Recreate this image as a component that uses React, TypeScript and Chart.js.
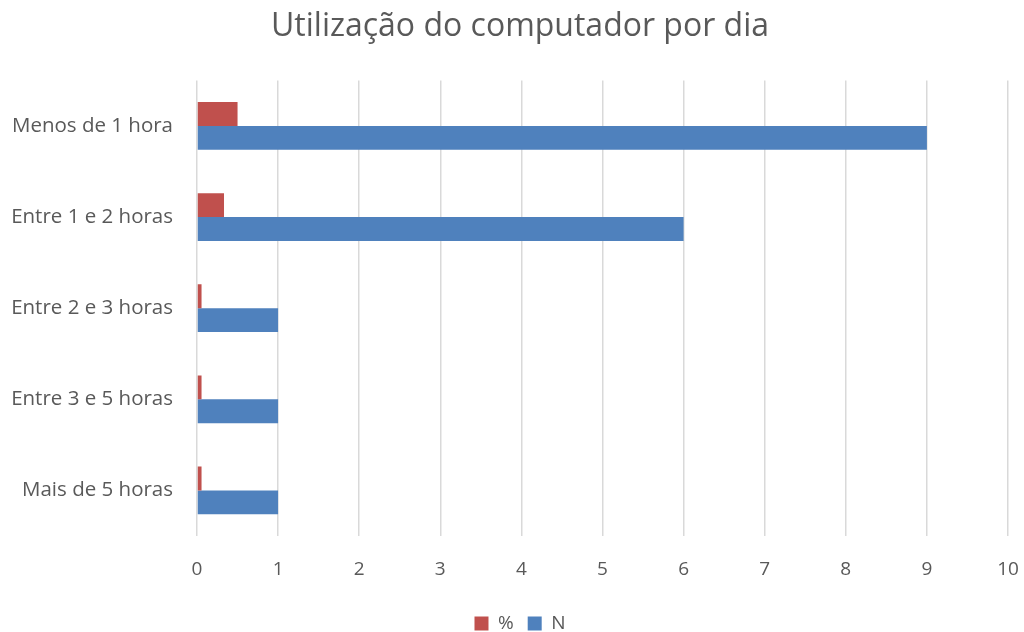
import React, { useEffect, useRef } from "react";
import { Chart, registerables } from "chart.js";

Chart.register(...registerables);

const categories = [
  "Menos de 1 hora",
  "Entre 1 e 2 horas",
  "Entre 2 e 3 horas",
  "Entre 3 e 5 horas",
  "Mais de 5 horas",
];
const percentValues = [0.5, 0.333, 0.056, 0.056, 0.056];
const nValues = [9, 6, 1, 1, 1];
const xTicks = [0, 1, 2, 3, 4, 5, 6, 7, 8, 9, 10];

const FONT = "'Open Sans', 'DejaVu Sans', sans-serif";
const TEXT = "#595959";

const unclipYLabels = {
  id: "unclipYLabels",
  afterLayout(chart: any) {
    if (chart.scales.y) chart.scales.y.left = 0;
  },
};

export default function App() {
  const ref = useRef<HTMLCanvasElement>(null);

  useEffect(() => {
    document.body.style.margin = "0";
    if (!ref.current) return;
    const chart = new Chart(ref.current, {
      type: "bar",
      data: {
        labels: categories,
        datasets: [
          {
            label: "%",
            data: percentValues,
            backgroundColor: "#C0504D",
            categoryPercentage: 0.524,
            barPercentage: 1,
          },
          {
            label: "N",
            data: nValues,
            backgroundColor: "#4F81BD",
            categoryPercentage: 0.524,
            barPercentage: 1,
          },
        ],
      },
      plugins: [unclipYLabels],
      options: {
        indexAxis: "y",
        animation: false,
        responsive: false,
        maintainAspectRatio: false,
        layout: { padding: { left: 16, right: 0, top: 0, bottom: -11 } },
        scales: {
          x: {
            min: 0,
            max: 10,
            afterBuildTicks: (scale: any) => {
              scale.ticks = xTicks.map((v) => ({ value: v }));
            },
            afterFit: (scale: any) => {
              scale.height = 64;
              scale.paddingLeft = 0;
              scale.paddingRight = 16;
            },
            grid: { color: "#d9d9d9", lineWidth: 1.5, drawTicks: false },
            border: { display: false },
            ticks: {
              padding: 22,
              color: TEXT,
              font: { family: FONT, size: 19 },
            },
          },
          y: {
            afterFit: (scale: any) => {
              scale.width = 181;
            },
            grid: { display: false, drawTicks: false },
            border: { display: false },
            ticks: {
              padding: 24,
              color: TEXT,
              font: { family: FONT, size: 20.5 },
            },
          },
        },
        plugins: {
          title: {
            display: true,
            text: "Utilização do computador por dia",
            color: TEXT,
            font: { family: FONT, size: 32, weight: "normal" },
            padding: { top: 8, bottom: 34 },
          },
          legend: {
            position: "bottom",
            labels: {
              color: TEXT,
              font: { family: FONT, size: 19 },
              boxWidth: 14,
              boxHeight: 14,
              padding: 14,
            },
          },
          tooltip: { enabled: false },
        },
      },
    });
    return () => chart.destroy();
  }, []);

  return (
    <div style={{ width: 1024, height: 632, background: "#fff" }}>
      <canvas ref={ref} width={1024} height={632} style={{ width: 1024, height: 632 }} />
    </div>
  );
}
